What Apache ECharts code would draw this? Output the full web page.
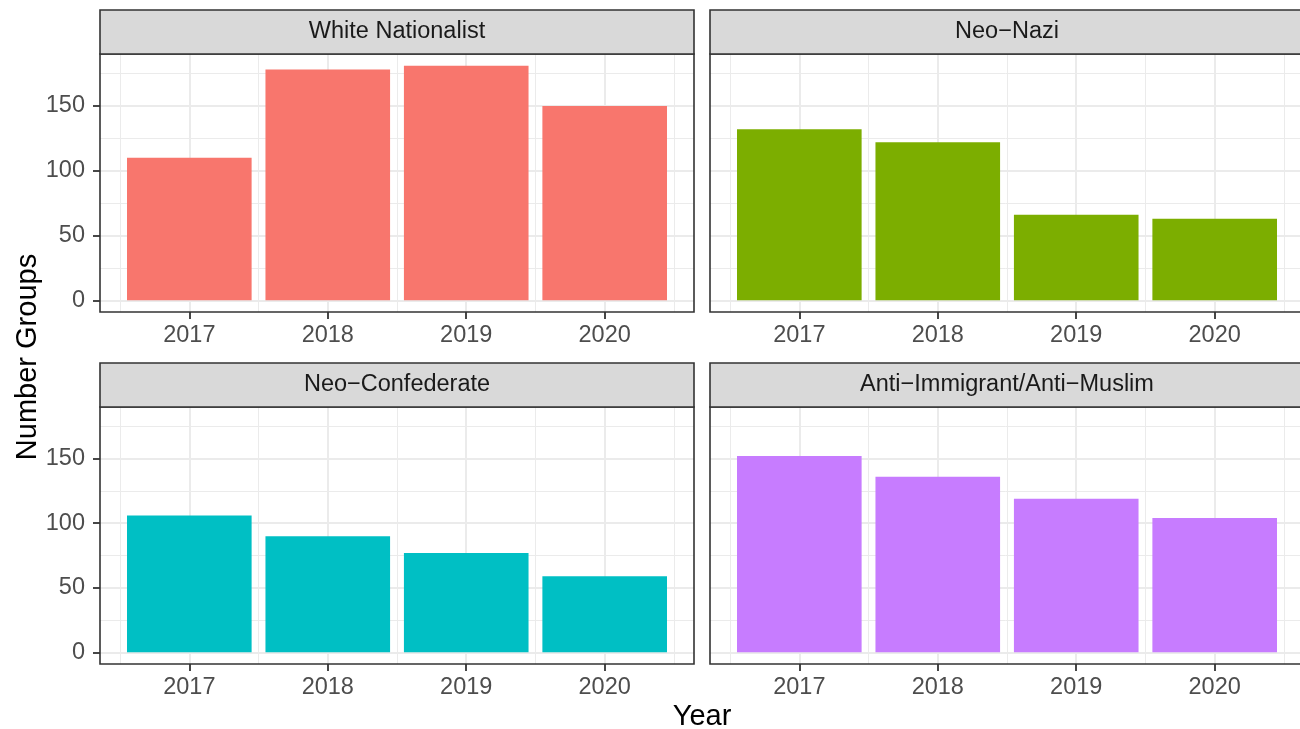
<!DOCTYPE html>
<html><head><meta charset="utf-8">
<script src="https://cdn.jsdelivr.net/npm/echarts@6/dist/echarts.min.js"></script>
<style>html,body{margin:0;padding:0;background:#fff;overflow:hidden}#c{width:1300px;height:729px}</style>
</head><body><div id="c"></div>
<script>
// ---- data ----
const panelTitles = ["White Nationalist", "Neo\u2212Nazi", "Neo\u2212Confederate", "Anti\u2212Immigrant/Anti\u2212Muslim"];
const years = [2017, 2018, 2019, 2020];
const whiteNationalist = [110, 178, 181, 150];
const neoNazi = [132, 122, 66, 63];
const neoConfederate = [106, 90, 77, 59];
const antiImmigrantAntiMuslim = [152, 136, 119, 104];
const yTicks = [0, 50, 100, 150];
const yMinorTicks = [25, 75, 125, 175];
const xMinorTicks = [2016.5, 2017.5, 2018.5, 2019.5, 2020.5];
const colors = ["#F8766D", "#7CAE00", "#00BFC4", "#C77CFF"];
const seriesValues = [whiteNationalist, neoNazi, neoConfederate, antiImmigrantAntiMuslim];

// ---- scales (ggplot-like 5% expansion) ----
const allMax = Math.max(...seriesValues.flat());
const yMin = -0.05 * allMax, yMax = allMax * 1.05;
const xLo = years[0] - 0.45, xHi = years[years.length - 1] + 0.45;
const xPad = 0.05 * (xHi - xLo);
const xMin = xLo - xPad, xMax = xHi + xPad;

// ---- layout ----
const FONT = "Liberation Sans, Arial, Helvetica, sans-serif";
const lefts = [100, 710, 100, 710];
const tops = [54, 54, 407, 407];
const W = 594, Hs = [258, 258, 257, 257];
const stripH = 44;
const TICKFS = 23.5;

const grids = [], xAxes = [], yAxes = [], series = [], graphics = [];
for (let i = 0; i < 4; i++) {
  grids.push({left: lefts[i], top: tops[i], width: W, height: Hs[i], show: false,
    containLabel: false, outerBoundsMode: 'none'});
  const showY = (i % 2 === 0);
  // major axes
  xAxes.push({type: 'value', gridIndex: i, min: xMin, max: xMax, position: 'bottom', z: 1,
    axisLine: {show: false, onZero: false},
    axisTick: {show: true, inside: false, length: 7, lineStyle: {color: '#333333', width: 1.8}, customValues: years},
    axisLabel: {show: true, customValues: years, color: '#4D4D4D', fontSize: TICKFS, fontFamily: FONT, margin: 12,
      formatter: v => String(v)},
    splitLine: {show: true, lineStyle: {color: '#EBEBEB', width: 2}}});
  yAxes.push({type: 'value', gridIndex: i, min: yMin, max: yMax, position: 'left', z: 1,
    axisLine: {show: false, onZero: false},
    axisTick: {show: showY, inside: false, length: 7, lineStyle: {color: '#333333', width: 1.8}, customValues: yTicks},
    axisLabel: {show: showY, customValues: yTicks, color: '#4D4D4D', fontSize: TICKFS, fontFamily: FONT, margin: 15,
      formatter: v => String(v)},
    splitLine: {show: true, lineStyle: {color: '#EBEBEB', width: 2}}});
  // bars
  series.push({type: 'bar', xAxisIndex: i, yAxisIndex: i, z: 2,
    barWidth: 0.9 * W / (xMax - xMin),
    itemStyle: {color: colors[i]},
    data: years.map((y, j) => [y, seriesValues[i][j]])});
  // panel border
  graphics.push({type: 'rect', x: lefts[i], y: tops[i], z: 10,
    shape: {x: 0, y: 0, width: W, height: Hs[i]},
    style: {fill: null, stroke: '#333333', lineWidth: 1.6}});
  // strip
  graphics.push({type: 'rect', x: lefts[i], y: tops[i] - stripH, z: 10,
    shape: {x: 0, y: 0, width: W, height: stripH},
    style: {fill: '#D9D9D9', stroke: '#333333', lineWidth: 1.6}});
  graphics.push({type: 'text', x: lefts[i] + W / 2, y: tops[i] - stripH / 2, z: 11,
    style: {text: panelTitles[i], fill: '#1A1A1A', font: TICKFS + 'px ' + FONT, textAlign: 'center', textVerticalAlign: 'middle'}});
}
// minor gridline axes
for (let i = 0; i < 4; i++) {
  xAxes.push({type: 'value', gridIndex: i, min: xMin, max: xMax, position: 'bottom', z: 0,
    axisLine: {show: false, onZero: false}, axisTick: {show: false, customValues: xMinorTicks},
    axisLabel: {show: false, customValues: xMinorTicks},
    splitLine: {show: true, lineStyle: {color: '#EBEBEB', width: 1}}});
  yAxes.push({type: 'value', gridIndex: i, min: yMin, max: yMax, position: 'left', z: 0,
    axisLine: {show: false, onZero: false}, axisTick: {show: false, customValues: yMinorTicks},
    axisLabel: {show: false, customValues: yMinorTicks},
    splitLine: {show: true, lineStyle: {color: '#EBEBEB', width: 1}}});
}
graphics.push({type: 'text', x: 28, y: 357, rotation: Math.PI / 2,
  style: {text: 'Number Groups', fill: '#000000', font: '29px ' + FONT, textAlign: 'center', textVerticalAlign: 'middle'}});
graphics.push({type: 'text', x: 702, y: 717,
  style: {text: 'Year', fill: '#000000', font: '29px ' + FONT, textAlign: 'center', textVerticalAlign: 'middle'}});

const chart = echarts.init(document.getElementById('c'), null, {renderer: 'canvas'});
chart.setOption({
  animation: false,
  backgroundColor: '#ffffff',
  grid: grids, xAxis: xAxes, yAxis: yAxes, series: series, graphic: graphics
});
</script></body></html>
